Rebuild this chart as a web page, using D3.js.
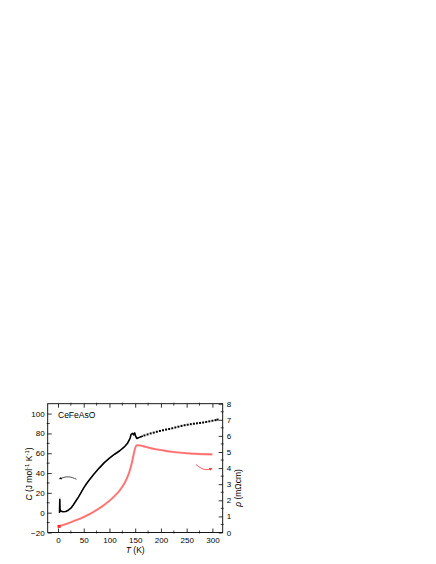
<!DOCTYPE html>
<html>
<head>
<meta charset="utf-8">
<script src="https://cdn.jsdelivr.net/npm/d3@7"></script>
<style>
  body { margin: 0; background: #fff; }
  svg { display: block; font-family: "Liberation Sans", Arial, sans-serif; }
  .tick text { font-size: 8px; fill: #000; }
</style>
</head>
<body>
<div id="chart"></div>
<script>
// heat capacity C (J mol-1 K-1), dense part
var heatT = [2, 3, 3.5, 4, 6, 10, 15, 20, 25, 30, 35, 40, 45, 50, 55, 60, 70, 80, 90, 100,
             110, 120, 130, 135, 140, 142, 145, 147, 149, 151, 153, 156, 160, 165];
var heatC = [1, 0.5, 13.5, 3, 1.5, 1, 1.2, 2.5, 4.5, 8, 12, 16, 20.5, 25, 29, 32.5, 39, 45, 50.5, 55,
             59, 62.5, 67, 70, 75, 79, 80, 78.5, 80.5, 77, 75, 75.5, 76.5, 77.5];

// sparse high temperature points
var heatT2 = [168, 174, 180, 186, 192, 198, 204, 210, 216, 222, 228, 234, 240, 246, 252,
              258, 264, 270, 276, 282, 288, 294, 300, 306, 310];
var heatC2 = [78.0, 79.0, 80.0, 80.8, 81.7, 82.5, 83.2, 83.9, 84.5, 85.2, 86.0, 86.8, 87.6, 88.3, 88.8,
              89.3, 89.8, 90.2, 90.6, 91.0, 91.6, 92.2, 92.8, 93.4, 94.0];

// resistivity rho (mOhm cm)
var rhoT = [2, 10, 20, 30, 40, 50, 60, 70, 80, 90, 100, 110, 120, 130, 135, 140, 144, 147, 150,
            153, 160, 170, 180, 190, 200, 220, 240, 260, 280, 300];
var rhoV = [0.38, 0.47, 0.58, 0.70, 0.82, 0.96, 1.12, 1.30, 1.50, 1.72, 1.97, 2.27, 2.62, 3.1, 3.45,
            3.9, 4.4, 4.85, 5.25, 5.42, 5.40, 5.32, 5.24, 5.17, 5.12, 5.02, 4.95, 4.90, 4.87, 4.85];

var xTicks = [0, 50, 100, 150, 200, 250, 300];
var cTicks = [-20, 0, 20, 40, 60, 80, 100];
var rhoTicks = [0, 1, 2, 3, 4, 5, 6, 7, 8];

var W = 436, H = 564;
var plotL = 47.7, plotR = 222.7, plotT = 403.7, plotB = 532.5;

var x = d3.scaleLinear().domain([-20, 320]).range([plotL, plotR]);
var yC = d3.scaleLinear().domain([-20, 110]).range([plotB, plotT]);
var yR = d3.scaleLinear().domain([0, 8]).range([plotB, plotT]);

var svg = d3.select("#chart").append("svg")
    .attr("width", W)
    .attr("height", H);

var defs = svg.append("defs");
function arrowMarker(id, color) {
  defs.append("marker")
      .attr("id", id)
      .attr("viewBox", "0 0 10 10")
      .attr("refX", 8).attr("refY", 5)
      .attr("markerWidth", 4).attr("markerHeight", 4)
      .attr("orient", "auto-start-reverse")
    .append("path")
      .attr("d", "M0,0L10,5L0,10z")
      .attr("fill", color);
}
arrowMarker("arrK", "#000");
arrowMarker("arrR", "#f33");

// minor ticks
function minor(axis, scale, vals, tx, ty, len) {
  svg.append("g").selectAll("line").data(vals).enter().append("line")
    .attr("x1", function(d) { return axis == "x" ? scale(d) : tx; })
    .attr("x2", function(d) { return axis == "x" ? scale(d) : tx + len; })
    .attr("y1", function(d) { return axis == "x" ? ty : scale(d); })
    .attr("y2", function(d) { return axis == "x" ? ty + len : scale(d); })
    .attr("stroke", "#000").attr("stroke-width", 0.7);
}
var xMinor = [25, 75, 125, 175, 225, 275];
var cMinor = [-10, 10, 30, 50, 70, 90];
var rMinor = [0.5, 1.5, 2.5, 3.5, 4.5, 5.5, 6.5, 7.5];
minor("x", x, xMinor, 0, plotB - 2, 3);
minor("x", x, xMinor, 0, plotT - 1, 3);
minor("y", yC, cMinor, plotL - 1, 0, 3);
minor("y", yR, rMinor, plotR - 2, 0, 3);

// axes
svg.append("g")
    .attr("transform", "translate(0," + plotB + ")")
    .call(d3.axisBottom(x).tickValues(xTicks).tickSizeInner(-4).tickSizeOuter(0).tickPadding(5))
    .call(function(g) { g.select(".domain").remove(); });

svg.append("g")
    .attr("transform", "translate(0," + plotT + ")")
    .call(d3.axisTop(x).tickValues(xTicks).tickSizeInner(-4).tickSizeOuter(0).tickFormat(""))
    .call(function(g) { g.select(".domain").remove(); });

svg.append("g")
    .attr("transform", "translate(" + plotL + ",0)")
    .call(d3.axisLeft(yC).tickValues(cTicks).tickSizeInner(-4).tickSizeOuter(0).tickPadding(3))
    .call(function(g) { g.select(".domain").remove(); });

svg.append("g")
    .attr("transform", "translate(" + plotR + ",0)")
    .call(d3.axisRight(yR).tickValues(rhoTicks).tickSizeInner(-4).tickSizeOuter(0).tickPadding(4))
    .call(function(g) { g.select(".domain").remove(); });

svg.selectAll(".tick line").attr("stroke-width", 0.8);

// frame
svg.append("rect")
    .attr("x", plotL).attr("y", plotT)
    .attr("width", plotR - plotL).attr("height", plotB - plotT)
    .attr("fill", "none").attr("stroke", "#000").attr("stroke-width", 0.9);

// resistivity
var rhoData = rhoT.map(function(t, i) { return [t, rhoV[i]]; });
var rhoLine = d3.line()
    .x(function(d) { return x(d[0]); })
    .y(function(d) { return yR(d[1]); })
    .curve(d3.curveMonotoneX);
svg.append("path")
    .datum(rhoData)
    .attr("fill", "none")
    .attr("stroke", "#ff8a8a")
    .attr("stroke-width", 2.1)
    .attr("d", rhoLine);
svg.append("path")
    .datum(rhoData)
    .attr("fill", "none")
    .attr("stroke", "#ff3030")
    .attr("stroke-width", 0.7)
    .attr("stroke-opacity", 0.5)
    .attr("d", rhoLine);
svg.append("rect")
    .attr("x", x(rhoT[0]) - 1.5).attr("y", yR(rhoV[0]) - 1.5)
    .attr("width", 3).attr("height", 3)
    .attr("fill", "#f22");

// heat capacity
var heatData = heatT.map(function(t, i) { return [t, heatC[i]]; });
svg.append("path")
    .datum(heatData)
    .attr("fill", "none")
    .attr("stroke", "#000")
    .attr("stroke-width", 1.6)
    .attr("stroke-linejoin", "round")
    .attr("d", d3.line()
      .x(function(d) { return x(d[0]); })
      .y(function(d) { return yC(d[1]); }));

svg.append("g").selectAll("rect")
    .data(heatT2.map(function(t, i) { return [t, heatC2[i]]; }))
  .enter().append("rect")
    .attr("x", function(d) { return x(d[0]) - 1; })
    .attr("y", function(d) { return yC(d[1]) - 1; })
    .attr("width", 2).attr("height", 2)
    .attr("fill", "#000");

// arrows pointing at the axes
var arrowK = [[36, 33.7], [20, 36.2], [3, 34.2]];
var arrowR = [[268, 4.22], [284, 3.92], [299, 3.97]];
svg.append("path")
    .datum(arrowK)
    .attr("fill", "none").attr("stroke", "#000").attr("stroke-width", 0.7)
    .attr("marker-end", "url(#arrK)")
    .attr("d", d3.line().x(function(d) { return x(d[0]); }).y(function(d) { return yC(d[1]); })
      .curve(d3.curveNatural));
svg.append("path")
    .datum(arrowR)
    .attr("fill", "none").attr("stroke", "#f33").attr("stroke-width", 0.8)
    .attr("marker-end", "url(#arrR)")
    .attr("d", d3.line().x(function(d) { return x(d[0]); }).y(function(d) { return yR(d[1]); })
      .curve(d3.curveNatural));

// labels
svg.append("text")
    .attr("x", 58).attr("y", 418)
    .style("font-size", "8.5px")
    .text("CeFeAsO");

var xt = svg.append("text")
    .attr("x", (plotL + plotR) / 2).attr("y", 553)
    .attr("text-anchor", "middle")
    .style("font-size", "8.5px");
xt.append("tspan").style("font-style", "italic").text("T");
xt.append("tspan").text(" (K)");

var yt = svg.append("text")
    .attr("transform", "translate(32,474) rotate(-90)")
    .attr("text-anchor", "middle")
    .style("font-size", "8.5px");
yt.append("tspan").style("font-style", "italic").text("C");
yt.append("tspan").text(" (J mol");
yt.append("tspan").attr("dy", -3).style("font-size", "6px").text("-1");
yt.append("tspan").attr("dy", 3).text(" K");
yt.append("tspan").attr("dy", -3).style("font-size", "6px").text("-1");
yt.append("tspan").attr("dy", 3).text(")");

var rt = svg.append("text")
    .attr("transform", "translate(241,488) rotate(-90)")
    .attr("text-anchor", "middle")
    .style("font-size", "8.5px");
rt.append("tspan").style("font-style", "italic").text("\u03c1");
rt.append("tspan").text(" (m\u03a9cm)");
</script>
</body>
</html>
